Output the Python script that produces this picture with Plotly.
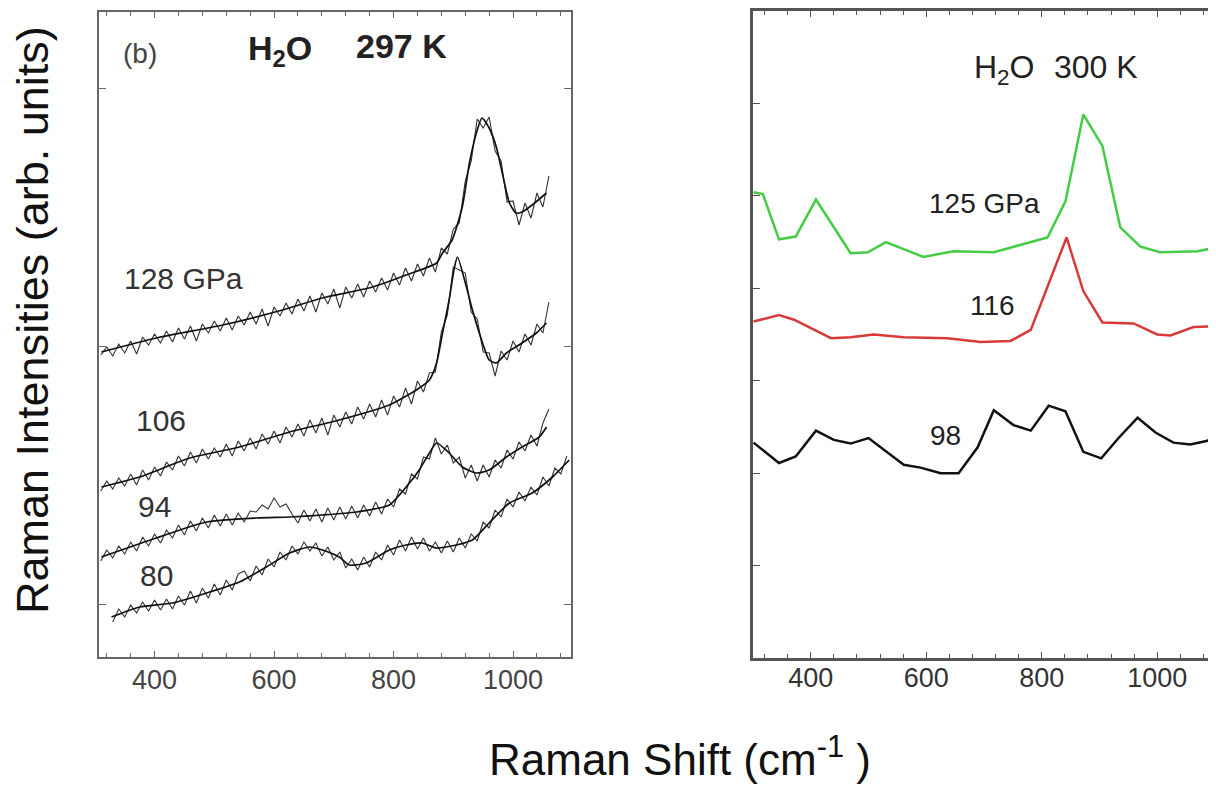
import plotly.graph_objects as go

# page body adds an 8px margin, so the figure is placed at (8, 8) in the window
OX, OY = 8, 8
W, H = 1208, 780

# ---------------- Left panel data (H2O 297 K) ----------------
raw_x_top = list(range(310, 1070, 10))
raw_x_80 = list(range(330, 1100, 10))

raw_128 = [30.2,31.0,30.1,31.3,30.4,31.6,30.3,32.0,31.2,32.3,
           31.4,32.6,31.5,32.9,31.8,33.1,31.6,33.3,32.4,33.6,
           32.6,33.9,32.7,34.1,33.2,34.5,33.3,34.8,33.1,35.0,
           34.1,35.4,34.3,35.8,34.6,36.1,34.5,36.4,35.3,36.8,
           34.9,37.0,35.9,37.3,36.0,37.6,36.5,37.9,36.7,38.4,
           37.2,38.9,37.6,39.3,38.1,39.9,38.5,40.9,40.3,42.8,
           43.4,47.6,49.6,53.8,52.9,54.0,50.6,49.6,45.5,45.6,
           43.2,45.4,43.9,46.4,45.0,48.1]
raw_106 = [16.6,17.6,16.8,17.9,17.1,18.3,17.2,18.7,17.7,19.0,
           18.1,19.5,18.7,20.1,19.1,20.5,19.4,20.8,19.8,20.9,
           20.0,21.3,20.1,21.6,20.6,21.9,20.8,22.3,21.3,22.6,
           21.4,23.0,22.0,23.3,22.1,23.7,22.4,23.9,22.2,24.2,
           23.0,24.5,23.3,25.0,23.8,25.3,24.0,25.7,24.2,26.1,
           25.0,26.9,25.3,27.6,26.5,28.4,28.5,32.5,34.2,39.0,
           38.7,38.4,34.5,33.8,30.5,30.4,28.1,30.6,29.7,31.6,
           30.5,32.3,31.2,33.3,32.4,35.5]
raw_94 = [9.6,10.7,9.9,11.1,10.3,11.5,10.6,12.0,11.1,12.3,
          11.4,12.7,11.9,13.2,12.2,13.6,12.6,13.9,12.9,14.2,
          13.1,14.3,13.2,14.4,13.5,14.6,14.5,15.2,14.8,15.9,
          15.0,15.3,14.3,13.4,14.7,13.6,14.8,13.5,14.9,13.7,
          15.0,13.8,15.1,13.9,15.2,14.1,15.5,14.3,15.8,15.0,
          16.8,16.3,18.3,17.8,20.0,19.8,21.9,20.3,21.2,19.4,
          20.0,17.9,19.2,17.6,19.2,18.0,19.7,18.9,20.7,19.8,
          21.5,20.6,22.2,21.1,23.4,24.8]
raw_80 = [3.5,4.8,4.0,5.2,4.4,5.5,4.6,5.7,4.7,5.8,
          4.8,6.1,5.2,6.6,5.4,6.9,5.9,7.3,6.2,7.7,
          6.7,8.3,8.6,7.6,9.1,8.2,9.8,9.0,10.5,9.7,
          11.1,10.3,11.5,10.6,11.4,10.1,11.0,9.7,10.5,8.9,
          9.8,8.7,10.0,9.0,10.5,9.7,11.2,10.2,11.7,10.6,
          12.0,10.8,11.9,10.6,11.5,10.4,11.6,10.5,11.9,10.9,
          12.3,11.6,13.5,12.9,14.7,14.0,15.8,15.0,16.5,15.6,
          17.0,16.2,18.0,17.1,18.9,18.3,20.1]

fit128_x = [311,403,514,614,681,765,821,872,882,898,915,927,940,948,960,972,982,994,1005,1015,1032,1056]
fit128_y = [30.5,31.9,33.2,34.7,35.9,37.0,38.2,39.4,40.4,41.7,45.0,49.4,52.7,53.9,52.9,51.0,48.4,45.4,44.4,44.5,45.2,46.4]
fit106_x = [311,375,459,542,626,709,793,838,860,872,882,893,902,907,922,932,949,960,972,989,1015,1039,1056]
fit106_y = [17.0,18.0,19.9,21.0,22.5,23.7,25.2,26.7,27.7,29.4,32.4,35.7,39.0,40.0,37.0,34.7,31.4,29.7,29.4,30.4,31.4,32.4,33.4]
fit94_x = [311,403,487,571,626,681,738,793,821,843,860,872,893,915,938,960,989,1015,1044,1056]
fit94_y = [10.0,11.9,13.5,13.9,14.0,14.2,14.5,15.2,17.0,18.7,20.4,21.4,20.4,19.0,18.4,18.7,20.0,21.0,22.0,23.0]
fit80_x = [328,375,430,487,542,587,626,659,681,709,726,754,793,821,848,872,905,932,960,994,1032,1066,1094]
fit80_y = [4.0,5.0,5.4,6.4,7.5,9.0,10.4,11.0,10.7,10.0,9.2,9.4,10.7,11.2,11.4,10.9,11.2,11.7,13.4,15.4,16.4,18.0,19.7]

left_labels = ["128 GPa", "106", "94", "80"]

# ---------------- Right panel data (H2O 300 K) ----------------
green_x = [301,317,345,374,409,469,499,530,595,647,717,810,841,872,905,936,971,1005,1070,1100]
green_y = [5.04,5.02,4.53,4.56,4.96,4.38,4.39,4.50,4.34,4.40,4.39,4.55,4.94,5.88,5.54,4.66,4.45,4.39,4.40,4.44]
red_x = [301,345,371,435,469,509,561,637,694,746,781,843,872,905,959,1000,1023,1063,1100]
red_y = [3.64,3.71,3.66,3.46,3.47,3.50,3.47,3.46,3.42,3.43,3.55,4.55,3.97,3.63,3.62,3.50,3.49,3.58,3.59]
black_x = [301,345,374,409,440,469,500,561,590,625,656,689,717,751,781,812,841,872,903,933,966,997,1028,1057,1087,1100]
black_y = [2.33,2.11,2.18,2.46,2.36,2.32,2.38,2.09,2.06,2.00,2.00,2.28,2.68,2.52,2.46,2.73,2.67,2.23,2.16,2.38,2.60,2.44,2.33,2.31,2.35,2.42]
right_labels = ["125 GPa", "116", "98"]

FONT = "Liberation Sans, Arial, Helvetica, sans-serif"

def px(x):
    return (x - OX) / W

def py(y):
    return 1 - (y - OY) / H

fig = go.Figure()

# left raw spectra
for xs, ys in [(raw_x_top, raw_128), (raw_x_top, raw_106), (raw_x_top, raw_94), (raw_x_80, raw_80)]:
    fig.add_trace(go.Scatter(x=xs, y=ys, mode="lines", xaxis="x", yaxis="y",
                             line=dict(color="#333333", width=1.1), hoverinfo="skip"))
# left fits
for xs, ys in [(fit128_x, fit128_y), (fit106_x, fit106_y), (fit94_x, fit94_y), (fit80_x, fit80_y)]:
    fig.add_trace(go.Scatter(x=xs, y=ys, mode="lines", xaxis="x", yaxis="y",
                             line=dict(color="#111111", width=1.7, shape="spline", smoothing=0.6)))

# right spectra
for xs, ys, c in [(green_x, green_y, "#44cc44"), (red_x, red_y, "#d83a3a"), (black_x, black_y, "#111111")]:
    fig.add_trace(go.Scatter(x=xs, y=ys, mode="lines", xaxis="x2", yaxis="y2",
                             line=dict(color=c, width=2.5)))

axis_common = dict(showgrid=False, zeroline=False, showline=True, mirror="ticks",
                   ticks="inside", automargin=False)

fig.update_layout(
    width=W, height=H, margin=dict(l=0, r=0, t=0, b=0),
    paper_bgcolor="white", plot_bgcolor="white", showlegend=False,
    font=dict(family=FONT, color="#222222"),
    xaxis=dict(domain=[px(99), px(571)], range=[307, 1097], anchor="y",
               linecolor="#666666", linewidth=1.5, tickcolor="#666666", ticklen=6, tickwidth=1.2,
               tick0=0, dtick=200, tickfont=dict(size=27, color="#444444"),
               ticklabelstandoff=-2,
               minor=dict(dtick=40, tick0=0, ticks="inside", ticklen=4, tickcolor="#666666"),
               **axis_common),
    yaxis=dict(domain=[py(657), py(12)], range=[0, 64.5], anchor="x",
               linecolor="#666666", linewidth=1.5, tickcolor="#666666", ticklen=7, tickwidth=1.2,
               tickvals=[5.3, 31.1, 56.9], showticklabels=False, **axis_common),
    xaxis2=dict(domain=[px(753), px(1215)], range=[300, 1100], anchor="y2",
                linecolor="#555555", linewidth=2.5, tickcolor="#555555", ticklen=6, tickwidth=1.2,
                tick0=0, dtick=200, tickfont=dict(size=27, color="#333333"),
                ticklabelstandoff=-6,
                minor=dict(dtick=40, tick0=0, ticks="inside", ticklen=4, tickcolor="#555555"),
                **axis_common),
    yaxis2=dict(domain=[py(658), py(11)], range=[0, 7], anchor="x2",
                linecolor="#555555", linewidth=2.5, tickcolor="#555555", ticklen=7, tickwidth=1.2,
                dtick=1, showticklabels=False, **axis_common),
)

def ann(text, x, y, size, color="#222222", xanchor="center", angle=0, bold=False):
    fig.add_annotation(text=text, x=px(x), y=py(y), xref="paper", yref="paper",
                       showarrow=False, xanchor=xanchor, yanchor="middle", textangle=angle,
                       font=dict(family=FONT, size=size, color=color,
                                 weight="bold" if bold else "normal"))

# left panel texts
ann("(b)", 140, 53, 28, "#444444")
ann("H<sub>2</sub>O", 280, 50, 34, "#222222", bold=True)
ann("297 K", 401, 46, 34, "#222222", bold=True)
ann(left_labels[0], 183, 278, 30, "#333333")
ann(left_labels[1], 161, 420, 30, "#333333")
ann(left_labels[2], 154, 507, 30, "#333333")
ann(left_labels[3], 156, 575, 30, "#333333")

# right panel texts
ann("H<sub>2</sub>O", 1004, 70, 32)
ann("300 K", 1096, 67, 32)
ann(right_labels[0], 984, 203, 28)
ann(right_labels[1], 992, 305, 28)
ann(right_labels[2], 945, 435, 28)

# axis titles
ann("Raman Intensities (arb. units)", 32, 320, 45, "#111111", angle=-90)
ann("Raman Shift (cm<sup>-1</sup> )", 487, 756, 44, "#111111", xanchor="left")

fig.write_html("out.html")
